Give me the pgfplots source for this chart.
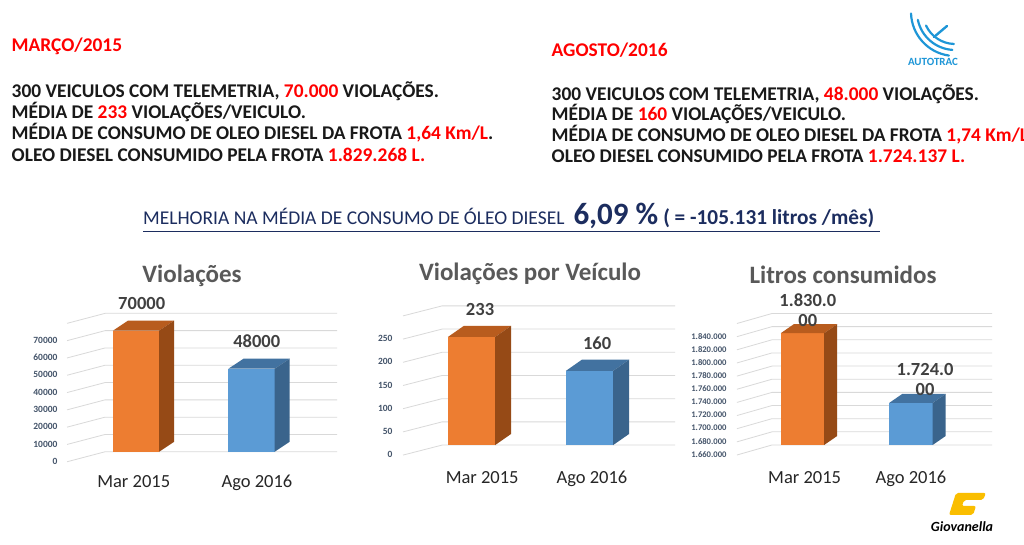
\documentclass[border=0pt]{standalone}
\usepackage{pgfplots}
\pgfplotsset{compat=1.18}
\usepackage{fontspec}
\setmainfont{Carlito}
\definecolor{orF}{RGB}{237,125,49}
\definecolor{orT}{RGB}{184,92,30}
\definecolor{orS}{RGB}{150,74,22}
\definecolor{blF}{RGB}{91,155,213}
\definecolor{blT}{RGB}{66,114,160}
\definecolor{blS}{RGB}{58,100,140}
\definecolor{gridc}{RGB}{217,217,217}
\definecolor{tickc}{RGB}{68,84,106}
\definecolor{titc}{RGB}{89,89,89}
\definecolor{valc}{RGB}{64,64,64}
\definecolor{navy}{RGB}{28,45,95}
\definecolor{hred}{RGB}{255,0,0}
\definecolor{atblue}{RGB}{30,150,215}
\definecolor{gyel}{RGB}{250,190,0}
\pgfplotsset{
 bar3d/.style={
  scale only axis, clip=false, scaled y ticks=false, scaled x ticks=false,
  axis line style={draw=none}, major tick length=0pt,
  ytick style={draw=none}, xtick style={draw=none},
  yticklabel style={font=\fontsize{9.5}{10}\selectfont\bfseries, text=tickc, xshift=-7pt, yshift=-9.5pt},
  xticklabel style={font=\fontsize{18.5}{20}\selectfont, text=black!85, anchor=base, yshift=-25pt},
  title style={font=\fontsize{25}{28}\selectfont\bfseries, text=titc, anchor=center},
 },
 face/.style={fill=#1, draw=none, mark=none},
 vlabel/.style={draw=none, mark=none, nodes near coords, point meta=explicit symbolic,
   every node near coord/.append style={font=\fontsize{18.5}{20}\selectfont\bfseries, text=valc, anchor=base, yshift=21pt}},
}
\newcommand{\hl}[1]{\textcolor{hred}{#1}}
\begin{document}
\begin{tikzpicture}[x=1pt,y=1pt]
\useasboundingbox (0,0) rectangle (1024,545);
\clip (0,0) rectangle (1024,545);
\fill[white] (0,0) rectangle (1024,545);
% ---------- header texts ----------
\begin{scope}[every node/.style={anchor=base west, inner sep=0pt, font=\fontsize{19.4}{21}\selectfont\bfseries, text=black!90}]
\node at (11.5,493.6) {\hl{MARÇO/2015}};
\node at (11.5,447.2) {300 VEICULOS COM TELEMETRIA, \hl{70.000} VIOLAÇÕES.};
\node at (11.5,426.1) {MÉDIA DE \hl{233} VIOLAÇÕES/VEICULO.};
\node at (11.5,405.0) {MÉDIA DE CONSUMO DE OLEO DIESEL DA FROTA \hl{1,64 Km/L}.};
\node at (11.5,383.9) {OLEO DIESEL CONSUMIDO PELA FROTA \hl{1.829.268 L.}};
\node at (551.5,488.1) {\hl{AGOSTO/2016}};
\node at (551.5,444.9) {300 VEICULOS COM TELEMETRIA, \hl{48.000} VIOLAÇÕES.};
\node at (551.5,424.0) {MÉDIA DE \hl{160} VIOLAÇÕES/VEICULO.};
\node at (551.5,403.1) {MÉDIA DE CONSUMO DE OLEO DIESEL DA FROTA \hl{1,74 Km/L}};
\node at (551.5,382.2) {OLEO DIESEL CONSUMIDO PELA FROTA \hl{1.724.137 L.}};
\end{scope}
% headline
\node[anchor=base west, inner sep=0pt, text=navy, font=\fontsize{19.5}{21}\selectfont] at (143,320)
 {MELHORIA NA MÉDIA DE CONSUMO DE ÓLEO DIESEL\hspace{9pt}{\fontsize{31}{32}\selectfont\bfseries 6,09 \%}\hspace{5pt}{\fontsize{21.3}{22}\selectfont\bfseries( = -105.131 litros /mês)}};
\draw[navy, line width=1pt] (143,313) -- (880,313);
% AUTOTRAC logo
\begin{scope}[atblue, line cap=round]
\draw[line width=2.2pt] (955,533) ++(182:44) arc (182:262:44);
\draw[line width=2.2pt] (955,533) ++(192:38) arc (192:266:38);
\draw[line width=2.2pt] (955,533) ++(205:32) arc (205:268:32);
\draw[line width=2.4pt] (934,508) -- (947,519);
\node[font=\fontsize{11}{12}\selectfont\bfseries, text=atblue] at (933,483) {AUTOTRAC};
\end{scope}
% Giovanella logo
\fill[gyel, rounded corners=2pt] (949,30) -- (956,52) -- (986,52) -- (983,45) -- (964,45) -- (962,39) -- (976,39) -- (973,30) -- cycle;
\node[font=\fontsize{14}{15}\selectfont\bfseries\itshape, text=black] at (962,18) {Giovanella};

% ---------- Chart 1 ----------
\begin{axis}[bar3d, at={(68pt,82pt)}, anchor=south west, width=269pt, height=158.3pt,
  xmin=-0.589, xmax=1.74, ymin=-6500, ymax=85000,
  ytick={0,10000,20000,30000,40000,50000,60000,70000,80000},
  yticklabels={0,10000,20000,30000,40000,50000,60000,70000,{}},
  xtick={-0.02,1.047}, xticklabels={Mar 2015,Ago 2016},
  title={Violações}, title style={at={(0.5,1)}, yshift=22.7pt, xshift=-10.5pt}]
\pgfplotsinvokeforeach{0,10000,20000,30000,40000,50000,60000,70000,80000}{
  \draw[gridc, line width=0.8pt] ([xshift=-38pt,yshift=-10pt]axis cs:-0.268,#1) -- (axis cs:-0.268,#1) -- (axis cs:1.74,#1);}
\addplot[face=orF] coordinates {(-0.2,0) (0.2,0) (0.2,70000) (-0.2,70000)} -- cycle;
\addplot[face=orT] coordinates {(-0.2,70000) (0.2,70000) (0.33,75780) (-0.07,75780)} -- cycle;
\addplot[face=orS] coordinates {(0.2,0) (0.33,5780) (0.33,75780) (0.2,70000)} -- cycle;
\addplot[face=blF] coordinates {(0.8,0) (1.2,0) (1.2,48000) (0.8,48000)} -- cycle;
\addplot[face=blT] coordinates {(0.8,48000) (1.2,48000) (1.33,53780) (0.93,53780)} -- cycle;
\addplot[face=blS] coordinates {(1.2,0) (1.33,5780) (1.33,53780) (1.2,48000)} -- cycle;
\addplot[vlabel] coordinates {(0.049,70000) [70000] (1.045,48000) [48000]};
\end{axis}

% ---------- Chart 2 ----------
\begin{axis}[bar3d, at={(403pt,86pt)}, anchor=south west, width=272.1pt, height=162.4pt,
  xmin=-0.581, xmax=1.725, ymin=-30, ymax=320,
  ytick={0,50,100,150,200,250,300},
  yticklabels={0,50,100,150,200,250,{}},
  xtick={0.09,1.02}, xticklabels={Mar 2015,Ago 2016},
  title={Violações por Veículo}, title style={at={(0.5,1)}, yshift=16.6pt, xshift=-9pt}]
\pgfplotsinvokeforeach{0,50,100,150,200,250,300}{
  \draw[gridc, line width=0.8pt] ([xshift=-39pt,yshift=-10pt]axis cs:-0.25,#1) -- (axis cs:-0.25,#1) -- (axis cs:1.725,#1);}
\addplot[face=orF] coordinates {(-0.2,0) (0.2,0) (0.2,233) (-0.2,233)} -- cycle;
\addplot[face=orT] coordinates {(-0.2,233) (0.2,233) (0.335,257) (-0.065,257)} -- cycle;
\addplot[face=orS] coordinates {(0.2,0) (0.335,24) (0.335,257) (0.2,233)} -- cycle;
\addplot[face=blF] coordinates {(0.8,0) (1.2,0) (1.2,160) (0.8,160)} -- cycle;
\addplot[face=blT] coordinates {(0.8,160) (1.2,160) (1.335,184) (0.935,184)} -- cycle;
\addplot[face=blS] coordinates {(1.2,0) (1.335,24) (1.335,184) (1.2,160)} -- cycle;
\addplot[vlabel] coordinates {(0.072,233) [233] (1.064,160) [160]};
\end{axis}

% ---------- Chart 3 ----------
\begin{axis}[bar3d, at={(737pt,86.85pt)}, anchor=south west, width=255pt, height=157.8pt,
  xmin=-0.603, xmax=1.747, ymin=1640000, ymax=1880000,
  yticklabel style={font=\fontsize{8.6}{9}\selectfont\bfseries},
  ytick={1660000,1680000,1700000,1720000,1740000,1760000,1780000,1800000,1820000,1840000,1860000},
  yticklabels={1.660.000,1.680.000,1.700.000,1.720.000,1.740.000,1.760.000,1.780.000,1.800.000,1.820.000,1.840.000,{}},
  xtick={0.02,1.0}, xticklabels={Mar 2015,Ago 2016},
  title={Litros consumidos}, title style={at={(0.5,1)}, yshift=19.4pt, xshift=-21.5pt}]
\pgfplotsinvokeforeach{1660000,1680000,1700000,1720000,1740000,1760000,1780000,1800000,1820000,1840000,1860000}{
  \draw[gridc, line width=0.8pt] ([xshift=-35pt,yshift=-10pt]axis cs:-0.281,#1) -- (axis cs:-0.281,#1) -- (axis cs:1.747,#1);}
\addplot[face=orF] coordinates {(-0.2,1660000) (0.2,1660000) (0.2,1830000) (-0.2,1830000)} -- cycle;
\addplot[face=orT] coordinates {(-0.2,1830000) (0.2,1830000) (0.32,1843700) (-0.08,1843700)} -- cycle;
\addplot[face=orS] coordinates {(0.2,1660000) (0.32,1673700) (0.32,1843700) (0.2,1830000)} -- cycle;
\addplot[face=blF] coordinates {(0.8,1660000) (1.2,1660000) (1.2,1724000) (0.8,1724000)} -- cycle;
\addplot[face=blT] coordinates {(0.8,1724000) (1.2,1724000) (1.32,1737700) (0.92,1737700)} -- cycle;
\addplot[face=blS] coordinates {(1.2,1660000) (1.32,1673700) (1.32,1737700) (1.2,1724000)} -- cycle;
\addplot[vlabel, every node near coord/.append style={anchor=center, yshift=2pt, align=center, font=\fontsize{18.5}{20}\selectfont\bfseries}]
  coordinates {(0.05,1830000) [{1.830.0\\00}] (1.13,1724000) [{1.724.0\\00}]};
\end{axis}
\end{tikzpicture}
\end{document}
